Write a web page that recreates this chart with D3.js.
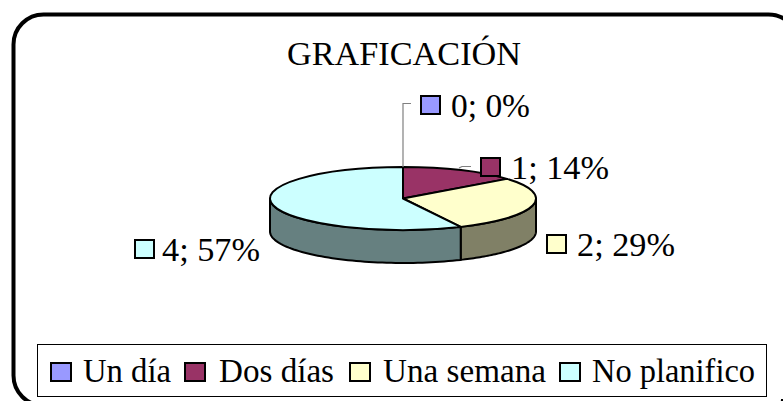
<!DOCTYPE html>
<html><head><meta charset="utf-8">
<script src="https://cdnjs.cloudflare.com/ajax/libs/d3/7.8.5/d3.min.js"></script>
<style>html,body{margin:0;padding:0;background:#fff}svg{display:block}text{font-family:"Liberation Serif",serif;fill:#000}</style>
</head><body><svg id="c" width="783" height="401"></svg>
<script>
const categories=["Un día","Dos días","Una semana","No planifico"];
const seriesValues=[0,1,2,4];
const percentLabels=["0%","14%","29%","57%"];
const topColors=["#9999ff","#993366","#ffffcc","#ccffff"];
const sideColors=["#4d4d80","#4d1a33","#808066","#668080"];
const title="GRAFICACIÓN";

const svg=d3.select("#c");
svg.append("rect").attr("x",13.5).attr("y",14.5).attr("width",785).attr("height",391).attr("rx",30).attr("ry",30)
  .attr("fill","#fff").attr("stroke","#000").attr("stroke-width",4);
svg.append("text").attr("x",404).attr("y",65).attr("text-anchor","middle").attr("font-size",33).attr("textLength",234).attr("lengthAdjust","spacingAndGlyphs").text(title);

const cx=403,cy=198.5,rx=133,ry=31.5,depth=33;
const arcs=d3.pie().sort(null)(seriesValues);
const px=a=>cx+rx*Math.sin(a), py=a=>cy-ry*Math.cos(a);
const g=svg.append("g");
const line=d3.line().x(d=>d[0]).y(d=>d[1]);
arcs.forEach((d,i)=>{
  const a0=Math.max(d.startAngle,Math.PI/2),a1=Math.min(d.endAngle,Math.PI*1.5);
  if(a1<=a0)return;
  const s=d3.scaleLinear().domain([0,60]).range([a0,a1]);
  const angs=d3.range(61).map(s);
  const pts=angs.map(a=>[px(a),py(a)]).concat(angs.slice().reverse().map(a=>[px(a),py(a)+depth]));
  g.append("path").attr("d",line(pts)+"Z").attr("fill",sideColors[i]).attr("stroke","#000").attr("stroke-width",2).attr("stroke-linejoin","round");
});
const k=ry/rx;
const arc=d3.arc().innerRadius(0).outerRadius(rx);
const topFace=g.append("g").attr("transform",`translate(${cx},${cy}) scale(1,${k})`);
arcs.forEach((d,i)=>{
  if(d.value===0)return;
  topFace.append("path").attr("d",arc(d)).attr("fill",topColors[i]).attr("stroke","#000").attr("stroke-width",2).attr("vector-effect","non-scaling-stroke").attr("stroke-linejoin","round");
});
svg.append("path").attr("d",line([[403,167],[403,103.5],[411,103.5]])).attr("fill","none").attr("stroke","#808080").attr("stroke-width",1.2);
svg.append("path").attr("d",line([[459,168],[462,166.5],[471,166.5]])).attr("fill","none").attr("stroke","#808080").attr("stroke-width",1.2);

const labelPos=[[421,96],[481,158],[547,235],[135,240]];
const labelW=[79,98,98,98];
labelPos.forEach((p,i)=>{
  svg.append("rect").attr("x",p[0]).attr("y",p[1]).attr("width",19).attr("height",18).attr("fill",topColors[i]).attr("stroke","#000").attr("stroke-width",2);
  svg.append("text").attr("x",p[0]+(i===3?27:30)).attr("y",p[1]+21).attr("font-size",33).attr("textLength",labelW[i]).attr("lengthAdjust","spacingAndGlyphs").text(`${seriesValues[i]}; ${percentLabels[i]}`);
});

svg.append("rect").attr("x",37.5).attr("y",344.5).attr("width",729).attr("height",52).attr("fill","#fff").attr("stroke","#000").attr("stroke-width",1);
const legX=[51,185,350,560], legTx=[83,219,383,592], legW=[88,115,163,163];
categories.forEach((c,i)=>{
  svg.append("rect").attr("x",legX[i]).attr("y",363).attr("width",20).attr("height",18).attr("fill",topColors[i]).attr("stroke","#000").attr("stroke-width",2);
  svg.append("text").attr("x",legTx[i]).attr("y",382).attr("font-size",33).attr("textLength",legW[i]).attr("lengthAdjust","spacingAndGlyphs").text(c);
});
svg.append("rect").attr("x",781).attr("y",399).attr("width",2).attr("height",2).attr("fill","#000");
</script></body></html>
